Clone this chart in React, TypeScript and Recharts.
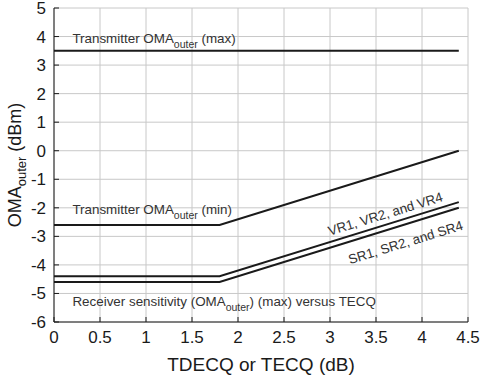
import React from "react";
import {
  CartesianGrid,
  Line,
  LineChart,
  ReferenceDot,
  XAxis,
  YAxis,
} from "recharts";

const tdecq = [0, 1.8, 4.4];
const txMax = [3.5, 3.5, 3.5];
const txMin = [-2.6, -2.6, 0];
const vrSens = [-4.4, -4.4, -1.8];
const srSens = [-4.6, -4.6, -2.0];

const xTicks = [0, 0.5, 1, 1.5, 2, 2.5, 3, 3.5, 4, 4.5];
const yTicks = [-6, -5, -4, -3, -2, -1, 0, 1, 2, 3, 4, 5];

const data = tdecq.map((x, i) => ({
  x,
  txMax: txMax[i],
  txMin: txMin[i],
  vr: vrSens[i],
  sr: srSens[i],
}));

const FONT = "'Liberation Sans', Arial, sans-serif";
const INK = "#1a1a1a";

type Note = {
  x: number;
  y: number;
  parts: [string, boolean][];
  angle?: number;
  anchor?: "start" | "middle";
};

const notes: Note[] = [
  { x: 0.2, y: 3.95, parts: [["Transmitter OMA", false], ["outer", true], [" (max)", false]] },
  { x: 0.2, y: -2.05, parts: [["Transmitter OMA", false], ["outer", true], [" (min)", false]] },
  {
    x: 0.2,
    y: -5.25,
    parts: [["Receiver sensitivity (OMA", false], ["outer", true], [") (max) versus TECQ", false]],
  },
  { x: 3.6, y: -2.2, parts: [["VR1, VR2, and VR4", false]], angle: -17, anchor: "middle" },
  { x: 3.82, y: -3.2, parts: [["SR1, SR2, and SR4", false]], angle: -17, anchor: "middle" },
];

function renderParts(parts: [string, boolean][]) {
  let sub = false;
  return parts.map(([t, isSub], i) => {
    let dy = 0;
    if (isSub && !sub) dy = 6;
    if (!isSub && sub) dy = -6;
    sub = isSub;
    return (
      <tspan key={i} dy={dy} fontSize={isSub ? 10.5 : 13.4}>
        {t}
      </tspan>
    );
  });
}

function NoteShape(note: Note) {
  return (props: any) => {
    const { cx, cy } = props;
    return (
      <text
        x={cx}
        y={cy}
        dominantBaseline="central"
        textAnchor={note.anchor ?? "start"}
        fill="#333"
        fontFamily={FONT}
        transform={note.angle ? `rotate(${note.angle} ${cx} ${cy})` : undefined}
      >
        {renderParts(note.parts)}
      </text>
    );
  };
}

const YTitle = (props: any) => {
  const vb = props.viewBox;
  const cx = 15;
  const cy = vb.y + vb.height / 2;
  return (
    <text
      x={cx}
      y={cy}
      textAnchor="middle"
      dominantBaseline="central"
      transform={`rotate(-90 ${cx} ${cy})`}
      fill={INK}
      fontFamily={FONT}
      fontSize={18}
    >
      <tspan>OMA</tspan>
      <tspan dy={6} fontSize={13}>outer</tspan>
      <tspan dy={-6}> (dBm)</tspan>
    </text>
  );
};

const NoLabel = () => <g />;

export default function App() {
  const tickStyle = { fill: INK, fontSize: 17, fontFamily: FONT };
  return (
    <div style={{ position: "absolute", left: 0, top: 0, background: "#fff" }}>
      <LineChart
        width={480}
        height={375}
        data={data}
        margin={{ top: 8, right: 12, left: 0, bottom: 0 }}
      >
        <CartesianGrid stroke="#c8c8c8" strokeWidth={1} />
        <XAxis
          dataKey="x"
          type="number"
          domain={[0, 4.5]}
          ticks={xTicks}
          interval={0}
          height={53}
          tick={tickStyle}
          tickSize={-5}
          tickMargin={14}
          axisLine={{ stroke: INK }}
          tickLine={{ stroke: INK }}
          label={{
            value: "TDECQ or TECQ (dB)",
            position: "insideBottom",
            offset: 4,
            fill: INK,
            fontSize: 19,
            fontFamily: FONT,
          }}
        />
        <XAxis
          xAxisId="top"
          dataKey="x"
          type="number"
          orientation="top"
          domain={[0, 4.5]}
          ticks={xTicks}
          interval={0}
          height={0}
          tick={NoLabel}
          tickSize={-5}
          axisLine={{ stroke: INK }}
          tickLine={{ stroke: INK }}
        />
        <YAxis
          type="number"
          domain={[-6, 5]}
          ticks={yTicks}
          interval={0}
          width={54}
          tick={tickStyle}
          tickSize={-5}
          tickMargin={13}
          axisLine={{ stroke: INK }}
          tickLine={{ stroke: INK }}
          label={{ content: YTitle }}
        />
        <YAxis
          yAxisId="right"
          type="number"
          orientation="right"
          domain={[-6, 5]}
          ticks={yTicks}
          interval={0}
          width={0}
          tick={NoLabel}
          tickSize={-5}
          axisLine={{ stroke: INK }}
          tickLine={{ stroke: INK }}
        />
        {["txMax", "txMin", "vr", "sr"].map((k) => (
          <Line
            key={k}
            dataKey={k}
            type="linear"
            stroke={INK}
            strokeWidth={2}
            dot={false}
            isAnimationActive={false}
          />
        ))}
        {notes.map((n, i) => (
          <ReferenceDot
            key={i}
            x={n.x}
            y={n.y}
            r={0}
            ifOverflow="visible"
            shape={NoteShape(n)}
          />
        ))}
      </LineChart>
    </div>
  );
}
